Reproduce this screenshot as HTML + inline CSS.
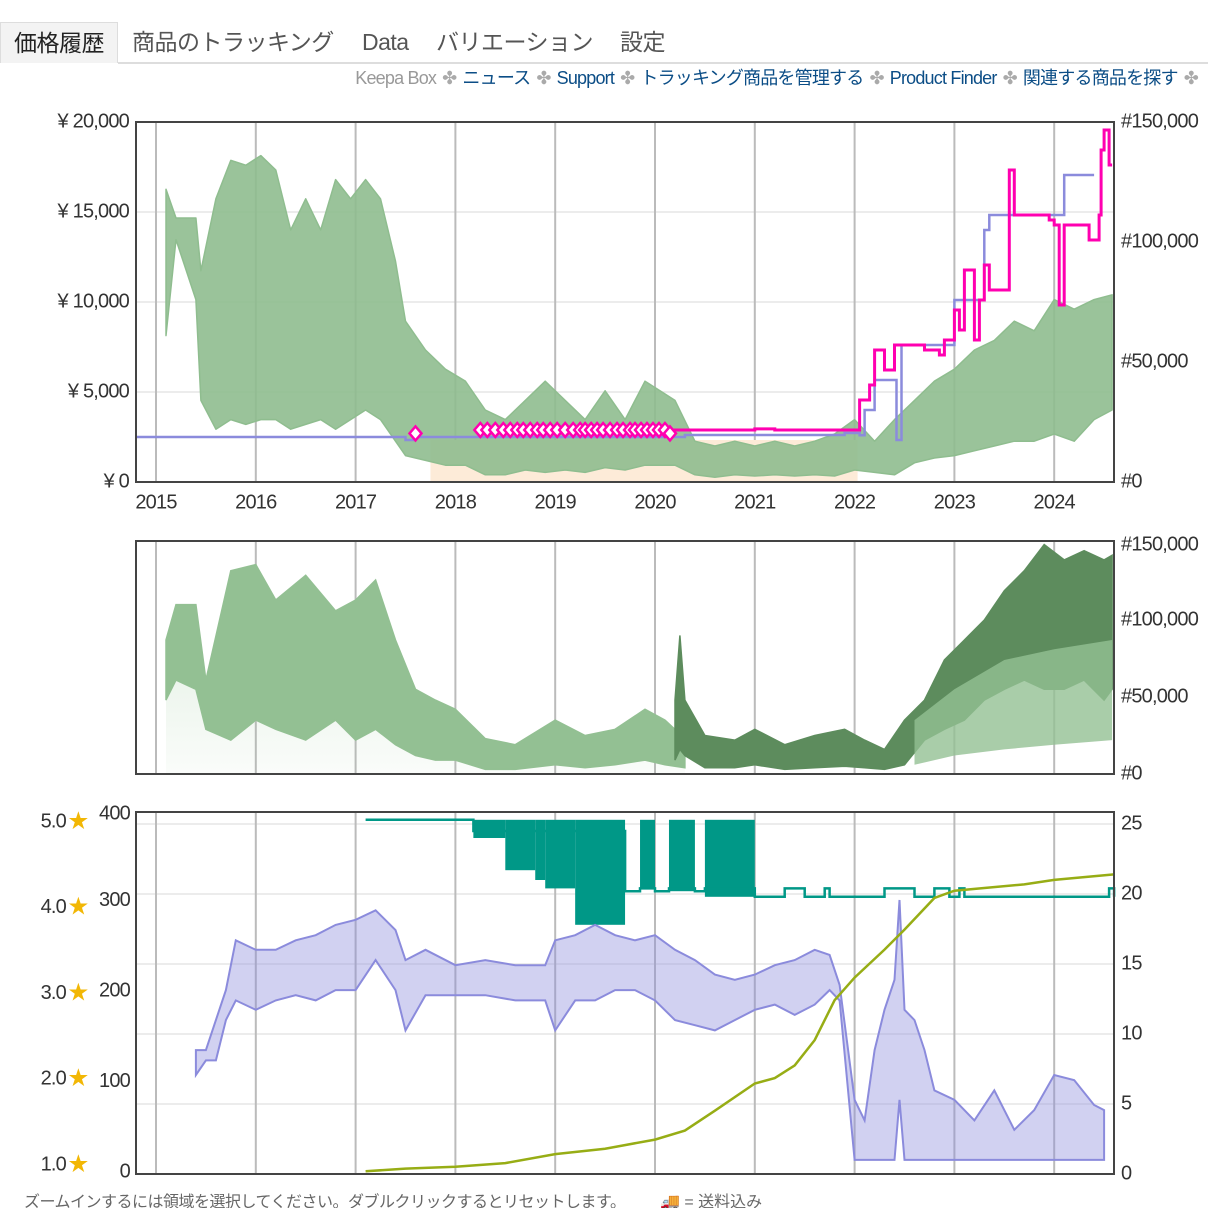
<!DOCTYPE html>
<html><head><meta charset="utf-8">
<style>
html,body{margin:0;padding:0;background:#fff;width:1208px;height:1208px;overflow:hidden}
body{font-family:"Liberation Sans","Noto Sans CJK JP",sans-serif;position:relative}
.tab{position:absolute;top:22px;height:40px;font-size:23px;color:#555;line-height:40px;letter-spacing:-0.5px;white-space:nowrap}
.links{position:absolute;top:64px;right:4px;font-size:18px;line-height:28px;white-space:nowrap;letter-spacing:-0.8px}
.links a{color:#0b4d86;text-decoration:none}
.sep{color:#aaa;margin:0 6px}
svg text{font-family:"Liberation Sans","Noto Sans CJK JP",sans-serif;fill:#333;letter-spacing:-0.8px}
</style></head>
<body>
<div class="tab" style="left:0;width:116px;background:#f3f3f3;border:1px solid #ddd;border-bottom:none;text-align:center;color:#222">価格履歴</div>
<div class="tab" style="left:132px">商品のトラッキング</div>
<div class="tab" style="left:362px">Data</div>
<div class="tab" style="left:436px">バリエーション</div>
<div class="tab" style="left:620px">設定</div>
<div style="position:absolute;left:118px;top:62px;width:1090px;height:2px;background:#ddd"></div>
<div class="links">
<span style="color:#999">Keepa Box</span><span class="sep">✤</span><a>ニュース</a><span class="sep">✤</span><a>Support</a><span class="sep">✤</span><a>トラッキング商品を管理する</a><span class="sep">✤</span><a>Product Finder</a><span class="sep">✤</span><a>関連する商品を探す</a><span class="sep">✤</span>
</div>
<svg id="chart" width="1208" height="1208" style="position:absolute;left:0;top:0" xmlns="http://www.w3.org/2000/svg"></svg>
<div style="position:absolute;left:24px;top:1188px;font-size:16px;color:#666;letter-spacing:-0.5px">ズームインするには領域を選択してください。ダブルクリックするとリセットします。</div>
<div style="position:absolute;left:660px;top:1188px;font-size:16px;color:#666">🚚 = 送料込み</div>
<script>
// ---- data ----
const yearLabels = [2015,2016,2017,2018,2019,2020,2021,2022,2023,2024];
const priceTicks = [0,5000,10000,15000,20000];
const rankTicks = [0,50000,100000,150000];
const countTicks = [0,100,200,300,400];
const ratingTicks = [1,2,3,4,5];
const offerTicks = [0,5,10,15,20,25];
// sales rank (thousands) top chart
const rankT = [2015.1,2015.2,2015.4,2015.45,2015.6,2015.75,2015.9,2016.05,2016.2,2016.35,2016.5,2016.65,2016.8,2016.95,2017.1,2017.25,2017.4,2017.5,2017.7,2017.9,2018.1,2018.3,2018.5,2018.7,2018.9,2019.1,2019.3,2019.5,2019.7,2019.9,2020.05,2020.2,2020.4,2020.6,2020.8,2021.0,2021.2,2021.4,2021.6,2021.8,2022.0,2022.2,2022.4,2022.6,2022.8,2023.0,2023.2,2023.4,2023.6,2023.8,2024.0,2024.2,2024.4,2024.58];
const rankHi = [122,110,110,88,118,134,132,136,130,105,118,105,126,118,126,118,92,67,55,47,42,30,26,34,42,34,26,38,26,42,38,34,17,15,17,15,17,15,17,20,26,17,26,34,42,47,55,59,67,63,76,72,76,78];
const rankLo = [61,101,76,34,22,26,24,26,26,22,24,26,22,26,30,26,17,11,9,7,7,3,3,5,4,5,4,6,5,7,7,7,3,2,3,2.5,3,2.5,3,2.5,5,4,3,8,10,11,13,15,17,17,20,17,26,30];
// sub-category rank (thousands) second chart
const sub1T = [2015.1,2015.2,2015.4,2015.5,2015.75,2016.0,2016.2,2016.5,2016.8,2017.0,2017.2,2017.4,2017.6,2017.8,2018.0,2018.3,2018.6,2019.0,2019.3,2019.6,2019.9,2020.1,2020.3];
const sub1Hi = [87,110,110,61,132,136,113,129,106,113,126,87,55,48,42,23,19,35,25,29,42,35,23];
const sub1Lo = [48,61,55,29,22,35,29,22,35,22,29,19,12,9,9,3,3,6,4,6,9,6,4];
const sub2T = [2022.6,2023.0,2023.5,2024.0,2024.58];
const sub2Hi = [35,55,74,81,87];
const sub2Lo = [6,12,16,19,22];
const darkT = [2020.2,2020.25,2020.3,2020.5,2020.8,2021.0,2021.3,2021.6,2021.9,2022.1,2022.3,2022.5,2022.7,2022.9,2023.1,2023.3,2023.5,2023.7,2023.9,2024.1,2024.3,2024.5,2024.58];
const darkHi = [48,90,48,25,22,29,19,25,29,22,16,35,48,74,87,100,119,132,149,139,145,139,142];
const darkLo = [9,16,12,4,4,6,3,4,5,4,3,6,22,29,35,48,55,61,55,55,61,48,55];
// Amazon price (yen) step
const amzT = [2014.8,2017.5,2017.6,2020.3,2021.9,2022.05,2022.1,2022.2,2022.42,2022.47,2023.0,2023.3,2023.35,2024.1,2024.4];
const amzV = [2500,2333,2500,2611,2722,2600,4000,5667,2333,7611,10111,14000,14833,17056,17056];
// 3rd party new price (yen) step
const newT = [2018.2,2021.0,2021.2,2022.0,2022.05,2022.15,2022.2,2022.3,2022.4,2022.7,2022.85,2022.9,2023.0,2023.05,2023.1,2023.2,2023.25,2023.3,2023.35,2023.55,2023.6,2023.95,2024.0,2024.05,2024.1,2024.35,2024.45,2024.47,2024.5,2024.55,2024.58];
const newV = [2889,2950,2889,2889,4556,5389,7333,6222,7611,7333,7056,7889,9556,8444,11778,7889,10111,12056,10667,17333,14833,14556,14278,9833,14278,13444,14833,18444,19556,17611,17611];
const diamondT = [2017.6,2018.25,2018.32,2018.4,2018.48,2018.55,2018.62,2018.68,2018.75,2018.82,2018.88,2018.95,2019.02,2019.1,2019.18,2019.25,2019.3,2019.36,2019.42,2019.48,2019.55,2019.62,2019.68,2019.75,2019.8,2019.86,2019.92,2019.98,2020.04,2020.1,2020.15];
const diamondV = [2700,2889,2889,2889,2889,2889,2889,2889,2889,2889,2889,2889,2889,2889,2889,2889,2889,2889,2889,2889,2889,2889,2889,2889,2889,2889,2889,2889,2889,2889,2700];
// rating (stars)
const rateT = [2015.4,2015.5,2015.6,2015.7,2015.8,2016.0,2016.2,2016.4,2016.6,2016.8,2017.0,2017.2,2017.4,2017.5,2017.7,2018.0,2018.3,2018.6,2018.9,2019.0,2019.2,2019.4,2019.6,2019.8,2020.0,2020.2,2020.4,2020.6,2020.8,2021.0,2021.2,2021.4,2021.6,2021.75,2021.85,2022.0,2022.1,2022.2,2022.3,2022.4,2022.45,2022.5,2022.6,2022.7,2022.8,2023.0,2023.2,2023.4,2023.6,2023.8,2024.0,2024.2,2024.4,2024.5];
const rateHi = [2.34,2.34,2.69,3.04,3.62,3.51,3.51,3.62,3.68,3.80,3.86,3.97,3.74,3.39,3.51,3.33,3.39,3.33,3.33,3.62,3.68,3.80,3.68,3.62,3.68,3.51,3.39,3.22,3.16,3.22,3.33,3.39,3.51,3.45,3.10,1.76,1.52,2.34,2.81,3.16,4.09,2.81,2.69,2.34,1.87,1.76,1.52,1.87,1.41,1.64,2.05,1.99,1.70,1.64];
const rateLo = [2.05,2.22,2.22,2.69,2.92,2.81,2.92,2.98,2.92,3.04,3.04,3.39,3.04,2.57,2.98,2.98,2.98,2.92,2.92,2.57,2.92,2.92,3.04,3.04,2.92,2.69,2.63,2.57,2.69,2.81,2.87,2.75,2.87,3.04,2.92,1.06,1.06,1.06,1.06,1.06,1.76,1.06,1.06,1.06,1.06,1.06,1.06,1.06,1.06,1.06,1.06,1.06,1.06,1.06];
// review count
const revT = [2017.1,2017.5,2018.0,2018.5,2019.0,2019.5,2020.0,2020.3,2020.6,2021.0,2021.2,2021.4,2021.6,2021.8,2022.0,2022.3,2022.5,2022.8,2023.0,2023.3,2023.7,2024.0,2024.6];
const revV = [3,6,8,12,22,28,38,48,70,100,106,120,148,192,217,248,270,305,313,316,320,325,331];
// offer count
const offStart = [2018.18,2018.5,2018.8,2018.9,2019.2,2019.85,2020.14,2020.5];
const offEnd = [2018.5,2018.8,2018.9,2019.2,2019.7,2020.0,2020.4,2021.0];
const offLo = [24,21.7,21,20.4,17.8,20.4,20.2,19.8];
const offHi = 25.3;
const offLineT = [2017.1,2018.18,2019.7,2019.85,2020.0,2020.14,2020.4,2020.5,2021.0,2021.3,2021.5,2021.7,2021.75,2022.3,2022.6,2022.8,2022.95,2023.05,2023.1,2024.55,2024.6];
const offLineV = [25.3,24.5,20.2,20.4,20.2,20.4,20.2,20.4,19.8,20.4,19.8,20.4,19.8,20.4,19.8,20.4,19.8,20.4,19.8,20.4,19.8];

// ---- axes ----
const X0=136, X1=1114;
const xs = t => 156 + (t-2015)*99.8;
const yPrice = p => 482 - p/20000*360;
const yRank1 = k => 482 - k*1000/150000*360;
const yRank2 = k => 774 - k*1000/150000*231;
const yCount = c => 1174 - c/400*362;
const yRate = s => 1165 - (s-1)*85.75;
const yOff = o => 1174 - o*14;
const svg = document.getElementById('chart');
const NS='http://www.w3.org/2000/svg';
function mk(tag, attrs, parent){const e=document.createElementNS(NS,tag);for(const k in attrs)e.setAttribute(k,attrs[k]);(parent||svg).appendChild(e);return e;}
function txt(s,x,y,anchor,size){const e=mk('text',{x:x,y:y,'text-anchor':anchor,'font-size':size||20,'dominant-baseline':'middle'});e.textContent=s;return e;}
function band(T,H,L,fy){let d='';for(let i=0;i<T.length;i++)d+=(i?'L':'M')+xs(T[i]).toFixed(1)+','+fy(H[i]).toFixed(1);for(let i=T.length-1;i>=0;i--)d+='L'+xs(T[i]).toFixed(1)+','+fy(L[i]).toFixed(1);return d+'Z';}
function step(T,V,fy){let d='';for(let i=0;i<T.length;i++){const x=xs(T[i]).toFixed(1),y=fy(V[i]).toFixed(1);if(i===0)d+='M'+x+','+y;else d+='H'+x+'V'+y;}return d;}
function line(T,V,fy){let d='';for(let i=0;i<T.length;i++)d+=(i?'L':'M')+xs(T[i]).toFixed(1)+','+fy(V[i]).toFixed(1);return d;}

const defs=mk('defs',{});
const g=mk('linearGradient',{id:'lg',x1:0,y1:0,x2:0,y2:1},defs);
mk('stop',{offset:0,'stop-color':'#9cc89c','stop-opacity':0.35},g);
mk('stop',{offset:1,'stop-color':'#9cc89c','stop-opacity':0.05},g);

// frames + grids
const panels=[[122,482],[541,774],[812,1174]];
panels.forEach((p,i)=>{
  const r=mk('rect',{x:X0,y:p[0],width:X1-X0,height:p[1]-p[0],fill:'#fff',stroke:'none'});
  
  
});
priceTicks.forEach(v=>{const l=mk('line',{x1:X0,x2:X1,y1:yPrice(v),y2:yPrice(v),stroke:'#e6e6e6','stroke-width':1.5});
  
  });
offerTicks.forEach(v=>{const l=mk('line',{x1:X0,x2:X1,y1:yOff(v),y2:yOff(v),stroke:'#e6e6e6','stroke-width':1.5});
  
  });
yearLabels.forEach(yr=>{panels.forEach(p=>{const l=mk('line',{x1:xs(yr),x2:xs(yr),y1:p[0],y2:p[1],stroke:'#bbb','stroke-width':2});
  
  });
  const t=txt(String(yr),xs(yr),503,'middle',20);
  
  });

// panel 1
const peach=mk('rect',{x:xs(2017.75),y:yPrice(2333),width:xs(2022.03)-xs(2017.75),height:482-yPrice(2333),fill:'#fdebd8'});


const rk=mk('path',{d:band(rankT,rankHi,rankLo,yRank1),fill:'#8fbd8f','fill-opacity':0.9,stroke:'#8fbd8f','stroke-width':1.5,'stroke-linejoin':'round'});


const amz=mk('path',{d:step(amzT,amzV,yPrice),fill:'none',stroke:'#8b8bdc','stroke-width':2.5});


const np=mk('path',{d:step(newT,newV,yPrice),fill:'none',stroke:'#ff00b0','stroke-width':3});


diamondT.forEach((t,i)=>{const x=xs(t),y=yPrice(diamondV[i]);
  const d=mk('path',{d:`M${x-6},${y}L${x},${y-7}L${x+6},${y}L${x},${y+7}Z`,fill:'#fff',stroke:'#ff00b0','stroke-width':2.5});
  
  });

// panel 2
const fl=mk('path',{d:band(sub1T,sub1Hi,sub1T.map(()=>0),yRank2),fill:'url(#lg)',stroke:'none'});


const s1=mk('path',{d:band(sub1T,sub1Hi,sub1Lo,yRank2),fill:'#93c093',stroke:'#93c093','stroke-width':1.5});


const dk=mk('path',{d:band(darkT,darkHi,darkLo,yRank2),fill:'#5d8c5d',stroke:'#5d8c5d','stroke-width':1.5});


const s2=mk('path',{d:band(sub2T,sub2Hi,sub2Lo,yRank2),fill:'#93c093',stroke:'none','fill-opacity':0.8});



// panel 3
offStart.forEach((t,i)=>{const r=mk('rect',{x:xs(t),y:yOff(offHi),width:xs(offEnd[i])-xs(t),height:yOff(offLo[i])-yOff(offHi),fill:'#009887'});
  
  });
const ol=mk('path',{d:step(offLineT,offLineV,yOff),fill:'none',stroke:'#009887','stroke-width':2.5});


const rt=mk('path',{d:band(rateT,rateHi,rateLo,yRate),fill:'#8b8bdc','fill-opacity':0.4,stroke:'#8b8bdc','stroke-width':2});


const rv=mk('path',{d:line(revT,revV,yCount),fill:'none',stroke:'#97ad15','stroke-width':2.5});



// frames on top
panels.forEach((p,i)=>{const r=mk('rect',{x:X0,y:p[0],width:X1-X0,height:p[1]-p[0],fill:'none',stroke:'#444','stroke-width':2});
  
  });

// axis labels
priceTicks.forEach(v=>{const t=txt('¥ '+v.toLocaleString('en-US'),129,yPrice(v),'end',20);
  
  });
rankTicks.forEach(v=>{const t=txt('#'+v.toLocaleString('en-US'),1121,yRank1(v/1000),'start',20);
  
  
  const t2=txt('#'+v.toLocaleString('en-US'),1121,yRank2(v/1000)+(v===150000?2:0),'start',20);
  
  });
countTicks.forEach(v=>{const t=txt(String(v),130,yCount(v)+(v===400?2:-2),'end',20);
  
  });
ratingTicks.forEach(v=>{const t=txt(v.toFixed(1),66,yRate(v),'end',20);
  
  
  const s=mk('text',{x:78,y:yRate(v),'text-anchor':'middle','dominant-baseline':'middle','font-size':20,style:'fill:#f2b705'});s.textContent='★';
  
  });
offerTicks.forEach(v=>{const t=txt(String(v),1121,yOff(v),'start',20);
  
  });
</script>
</body></html>
